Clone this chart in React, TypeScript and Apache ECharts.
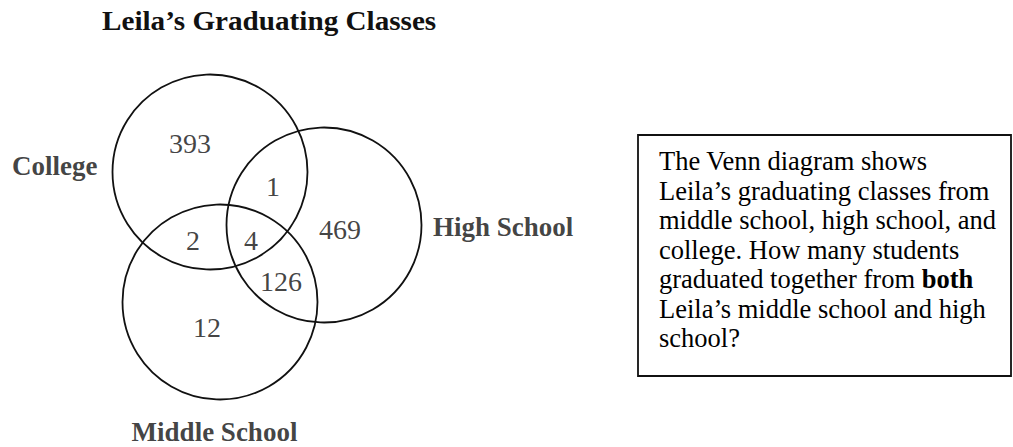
import React, { useEffect, useRef } from "react";
import * as echarts from "echarts";

// ---- data ----
const titleText = "Leila’s Graduating Classes";
const setNames = ["College", "High School", "Middle School"];
const regionNames = [
  "College only",
  "College & High School",
  "High School only",
  "College & Middle School",
  "All three",
  "High School & Middle School",
  "Middle School only",
];
const regionValues = [393, 1, 469, 2, 4, 126, 12];
const questionLines = [
  "The Venn diagram shows",
  "Leila’s graduating classes from",
  "middle school, high school, and",
  "college. How many students",
  "graduated together from {b|both}",
  "Leila’s middle school and high",
  "school?",
];

// ---- layout (diagram coordinates, px-like units) ----
const circleLayout = [
  { cx: 210, cy: 172, r: 97.5 },
  { cx: 324, cy: 225, r: 97.5 },
  { cx: 220, cy: 302, r: 97.5 },
];
const regionLabelPos = [
  [190, 143],
  [273, 186],
  [340, 229],
  [193, 240],
  [251, 240],
  [281, 281],
  [207, 327],
];
const setLabelPos = [
  { x: 12, y: 166, align: "left" },
  { x: 433, y: 227, align: "left" },
  { x: 214.5, y: 432, align: "center" },
];

const W = 1013;
const H = 447;
const FONT = "'Liberation Serif', 'Times New Roman', serif";

export default function App() {
  const ref = useRef<HTMLDivElement>(null);
  useEffect(() => {
    if (!ref.current) return;
    const chart = echarts.init(ref.current, undefined, { renderer: "svg" });

    const circleData = circleLayout.map((c, i) => ({
      name: setNames[i],
      value: [c.cx, c.cy, c.r],
    }));
    const regionData = regionValues.map((v, i) => ({
      name: regionNames[i],
      value: [regionLabelPos[i][0], regionLabelPos[i][1], v],
    }));
    const setLabelData = setNames.map((n, i) => ({
      name: n,
      value: [setLabelPos[i].x, setLabelPos[i].y],
      label: { align: setLabelPos[i].align },
    }));

    const boxX = 638;
    const boxY = 135;
    const textX = 659;
    const firstBaseline = 170;
    const lineStep = 29.5;
    const boxFont = 26.5;

    const textEls = questionLines.map((line, i) => ({
      type: "text",
      x: textX,
      y: firstBaseline + i * lineStep - 0.3375 * boxFont,
      style: {
        text: line,
        fontFamily: FONT,
        fontSize: boxFont,
        fill: "#000",
        verticalAlign: "middle",
        align: "left",
        rich: {
          b: { fontFamily: FONT, fontSize: boxFont, fontWeight: "bold", fill: "#000", color: "#000" },
        },
      },
    }));

    chart.setOption({
      animation: false,
      backgroundColor: "#fff",
      grid: { left: 0, right: 0, top: 0, bottom: 0 },
      xAxis: { type: "value", min: 0, max: W, show: false },
      yAxis: { type: "value", min: 0, max: H, inverse: true, show: false },
      series: [
        {
          type: "custom",
          name: "sets",
          data: circleData,
          renderItem: (params: any, api: any) => {
            const c = api.coord([api.value(0), api.value(1)]);
            const r = api.size([api.value(2), 0])[0];
            return {
              type: "circle",
              shape: { cx: c[0], cy: c[1], r },
              style: { fill: "none", stroke: "#111", lineWidth: 1.8 },
            };
          },
          silent: true,
        },
        {
          type: "scatter",
          name: "regions",
          data: regionData,
          symbolSize: 0,
          silent: true,
          label: {
            show: true,
            position: "inside",
            formatter: (p: any) => String(p.value[2]),
            fontFamily: FONT,
            fontSize: 28,
            color: "#111",
          },
        },
        {
          type: "scatter",
          name: "setNames",
          data: setLabelData,
          symbolSize: 0,
          silent: true,
          label: {
            show: true,
            position: "inside",
            formatter: (p: any) => p.name,
            fontFamily: FONT,
            fontSize: 27,
            fontWeight: "bold",
            color: "#111",
          },
        },
      ],
      graphic: [
        {
          type: "text",
          x: 102,
          y: 21,
          scaleX: 1.08,
          style: {
            text: titleText,
            fontFamily: FONT,
            fontSize: 27,
            fontWeight: "bold",
            fill: "#111",
            align: "left",
            verticalAlign: "middle",
          },
        },
        {
          type: "rect",
          shape: { x: boxX, y: boxY, width: 1011 - boxX, height: 376 - boxY },
          style: { fill: "none", stroke: "#111", lineWidth: 1.8 },
        },
        ...textEls,
      ],
    });
    return () => chart.dispose();
  }, []);
  return (
    <div
      ref={ref}
      style={{ position: "absolute", left: 0, top: 0, width: W, height: H }}
    />
  );
}
